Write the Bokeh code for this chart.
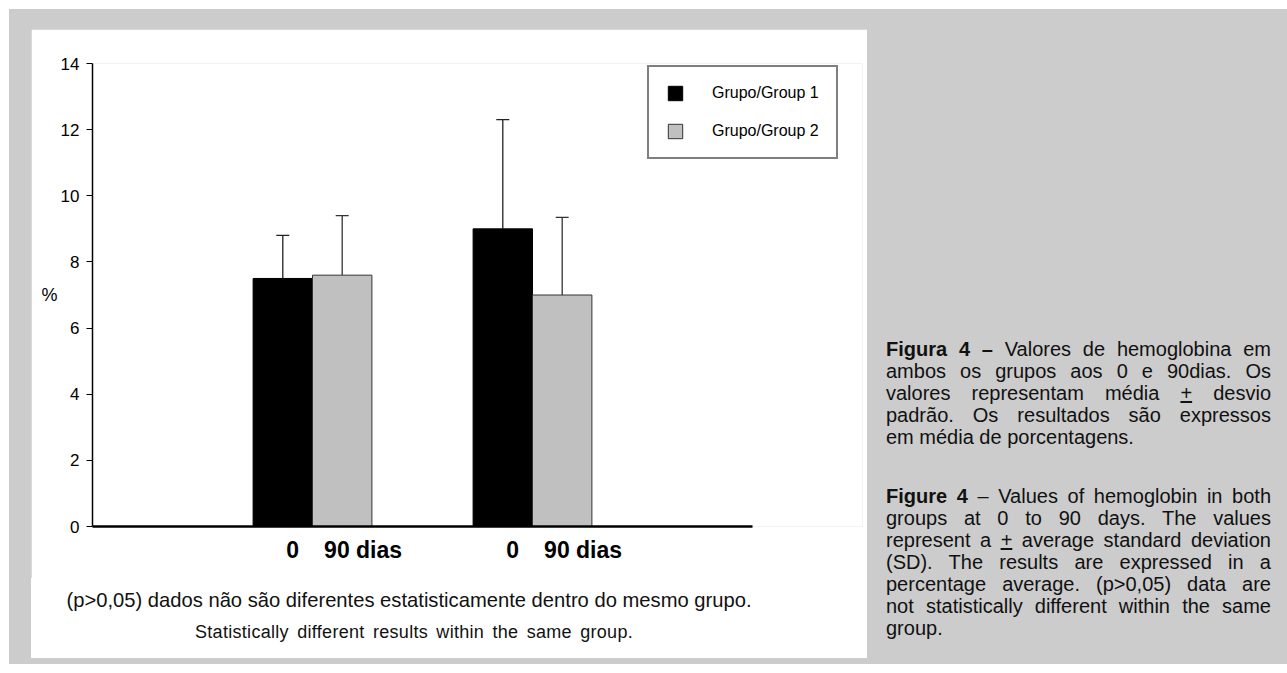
from bokeh.plotting import figure
from bokeh.models import (ColumnDataSource, Whisker, TeeHead, FixedTicker, Legend,
                          LegendItem, Div, Spacer, Range1d)
from bokeh.layouts import row, column
from bokeh.embed import file_html
from bokeh.resources import INLINE

# ---------------- data ----------------
series_names = ["Grupo/Group 1", "Grupo/Group 2"]
cluster_tick_labels = ["0", "90 dias"]
group1_mean = [7.5, 9.0]
group1_sd = [1.3, 3.3]
group2_mean = [7.6, 7.0]
group2_sd = [1.8, 2.35]
y_ticks = [0, 2, 4, 6, 8, 10, 12, 14]
y_label = "%"
note_pt = "(p&gt;0,05) dados não são diferentes estatisticamente dentro do mesmo grupo."
note_en = "Statistically different results within the same group."
caption_pt = ["<b>Figura 4 –</b> Valores de hemoglobina em",
              "ambos os grupos aos 0 e 90dias. Os",
              "valores representam média <u>+</u> desvio",
              "padrão. Os resultados são expressos",
              "em média de porcentagens."]
caption_en = ["<b>Figure 4</b> – Values of hemoglobin in both",
              "groups at 0 to 90 days. The values",
              "represent a <u>+</u> average standard deviation",
              "(SD). The results are expressed in a",
              "percentage average. (p&gt;0,05) data are",
              "not statistically different within the same",
              "group."]

# ---------------- layout constants ----------------
FONT = "Liberation Sans"
centers = [100, 200]          # cluster centres on the axis (axis drawn from 0 to 300)
bw = 27                       # bar width
x1 = [c - bw / 2 for c in centers]
x2 = [c + bw / 2 for c in centers]

src1 = ColumnDataSource(dict(x=x1, top=group1_mean,
                             upper=[m + s for m, s in zip(group1_mean, group1_sd)]))
src2 = ColumnDataSource(dict(x=x2, top=group2_mean,
                             upper=[m + s for m, s in zip(group2_mean, group2_sd)]))

p = figure(width=836, height=549, x_range=Range1d(0, 350), y_range=Range1d(0, 14),
           output_backend="svg", toolbar_location=None,
           min_border_left=61, min_border_top=34, min_border_right=5, min_border_bottom=52,
           background_fill_color="white", border_fill_color="white", outline_line_color=None)
p.grid.visible = False

r1 = p.vbar(x="x", top="top", bottom=0, width=bw, source=src1,
            fill_color="black", line_color="black", line_width=1)
r2 = p.vbar(x="x", top="top", bottom=0, width=bw, source=src2,
            fill_color="#c0c0c0", line_color="#333333", line_width=1)

for src, col in ((src1, "#222222"), (src2, "#333333")):
    w = Whisker(source=src, base="x", upper="upper", lower="top", dimension="height",
                line_color=col, line_width=1.3,
                upper_head=TeeHead(size=13, line_color=col, line_width=1.3),
                lower_head=None)
    p.add_layout(w)

# y axis
ya = p.yaxis[0]
ya.ticker = FixedTicker(ticks=y_ticks)
ya.axis_label = y_label
ya.axis_label_orientation = "horizontal"
ya.axis_label_standoff = 0
ya.axis_label_text_font = FONT
ya.axis_label_text_font_size = "18px"
ya.axis_label_text_font_style = "normal"
ya.axis_label_text_color = "black"
ya.major_label_text_font = FONT
ya.major_label_text_font_size = "17px"
ya.major_label_text_color = "black"
ya.major_label_standoff = 7
ya.major_tick_in = 0
ya.major_tick_out = 6
ya.minor_tick_in = 0
ya.minor_tick_out = 0
ya.axis_line_width = 1.5
ya.major_tick_line_width = 1.2
ya.axis_line_color = "black"

# x axis (cluster labels)
xa = p.xaxis[0]
xa.bounds = (0, 300)
tick_pos = []
overrides = {}
for c in centers:
    for off, lab in zip((-9, 23), cluster_tick_labels):
        tick_pos.append(c + off)
        overrides[c + off] = lab
xa.ticker = FixedTicker(ticks=tick_pos)
xa.major_label_overrides = overrides
xa.major_label_text_font = FONT
xa.major_label_text_font_size = "23px"
xa.major_label_text_font_style = "bold"
xa.major_label_text_color = "black"
xa.major_label_standoff = 10
xa.major_tick_in = 0
xa.major_tick_out = 0
xa.minor_tick_in = 0
xa.minor_tick_out = 0
xa.axis_line_width = 2.5
xa.axis_line_color = "black"

legend = Legend(items=[LegendItem(label=series_names[0], renderers=[r1]),
                       LegendItem(label=series_names[1], renderers=[r2])],
                location=(555, 367), border_line_color="black", border_line_width=2,
                padding=17, spacing=20, glyph_width=18, glyph_height=18,
                label_standoff=28, label_height=18, label_text_font=FONT,
                label_text_font_size="16px", label_text_color="black", margin=0,
                background_fill_color="white", background_fill_alpha=1)
p.add_layout(legend)

notes_html = (
    '<div style="font-family:\'Liberation Sans\',Arial,sans-serif;color:#111;">'
    '<div style="width:756px;text-align:center;white-space:nowrap;font-size:20.2px;'
    'line-height:20px;margin-top:12px;">%s</div>'
    '<div style="width:766px;text-align:center;white-space:nowrap;font-size:18px;'
    'line-height:20px;margin-top:12px;letter-spacing:0.3px;word-spacing:3px;">%s</div>'
    '</div>' % (note_pt, note_en))
notes = Div(text=notes_html, width=836, height=80, margin=0,
            styles={"background-color": "white"})


def para(lines, top_margin):
    out = []
    for i, ln in enumerate(lines):
        last = i == len(lines) - 1
        al = "left" if last else "justify"
        out.append('<div style="white-space:nowrap;text-align:%s;text-align-last:%s;">%s</div>'
                   % (al, al, ln))
    return '<div style="margin-top:%dpx">%s</div>' % (top_margin, "".join(out))


html = ('<div style="font-family:\'Liberation Sans\',Arial,sans-serif;font-size:20px;'
        'line-height:22px;color:#111;width:385px;">'
        + para(caption_pt, 0) + para(caption_en, 37) + '</div>')
cap = Div(text=html, width=385, height=320, margin=0)

gray = column(
    Spacer(height=20, width=1278),
    row(Spacer(width=22, height=629), column(p, notes), Spacer(width=19, height=629),
        column(Spacer(height=309, width=385), cap), Spacer(width=7, height=629)),
    Spacer(height=6, width=1278),
    styles={"background-color": "#cccccc"},
)

page = column(Spacer(height=9, width=1287), row(Spacer(width=9, height=664), gray),
              styles={"background-color": "white"})

open("out.html", "w").write(file_html(page, INLINE))
